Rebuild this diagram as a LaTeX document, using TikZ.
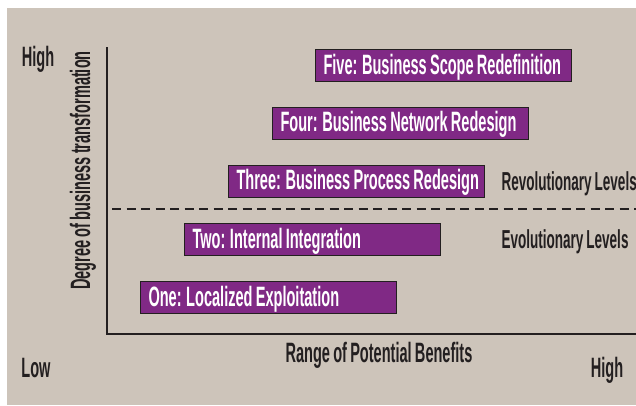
\documentclass[tikz,border=0pt]{standalone}
\usepackage{fontspec}
\newfontfamily\narrowfont{Liberation Sans}[FakeStretch=0.52,WordSpace=0.8]
\definecolor{bgbeige}{RGB}{205,196,186}
\definecolor{levelpurple}{RGB}{128,41,133}
\definecolor{inkdark}{RGB}{35,31,32}
\newcommand\leveltext[1]{\makebox[240pt][l]{#1}}
\begin{document}
\begin{tikzpicture}[x=1pt,y=-1pt,
    every node/.style={font=\narrowfont\bfseries\fontsize{28}{30}\selectfont},
    level/.style={draw=inkdark,line width=1pt,fill=levelpurple,text=white,
        anchor=west,inner xsep=8pt,inner ysep=7.5pt,
        text height=17pt,text depth=0pt},
    lbl/.style={text=inkdark,anchor=base},
    grouplbl/.style={lbl,anchor=base west,font=\narrowfont\bfseries\fontsize{26}{30}\selectfont}]
    \useasboundingbox (0,0) rectangle (636,405);
    \fill[bgbeige] (7,8) rectangle (636,405);
    % axes
    \coordinate (origin) at (107,334);
    \draw[inkdark,line width=2.5pt] (107,47) -- (origin) -- (636,334);
    % boundary between the two groups of levels
    \draw[inkdark,line width=2pt,dash pattern=on 9pt off 5.5pt] (112,209) -- (636,209);
    % the five levels
    \node[level] (five)  at (315,65.5)  {\leveltext{Five: Business Scope Redefinition}};
    \node[level] (four)  at (272,123)   {\leveltext{Four: Business Network Redesign}};
    \node[level] (three) at (228,181)   {\leveltext{Three: Business Process Redesign}};
    \node[level] (two)   at (184,239.5) {\leveltext{Two: Internal Integration}};
    \node[level] (one)   at (140,297.5) {\leveltext{One: Localized Exploitation}};
    % group labels
    \node[grouplbl] (revo) at (498,190) {Revolutionary Levels};
    \node[grouplbl] (evo)  at (498,248) {Evolutionary Levels};
    % axis labels
    \node[lbl] (yhigh) at (38,66)   {High};
    \node[lbl] (low)   at (36,377)  {Low};
    \node[lbl] (xhigh) at (607,377) {High};
    \node[lbl] (xlabel) at (379,362) {Range of Potential Benefits};
    \node[lbl,rotate=90] (ylabel) at (90,170.5) {Degree of business transformation};
\end{tikzpicture}
\end{document}
